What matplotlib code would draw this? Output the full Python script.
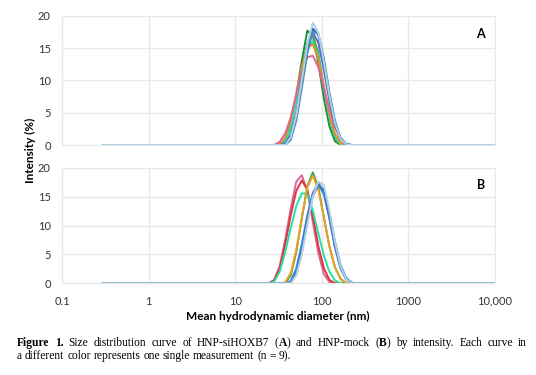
import matplotlib
matplotlib.use('Agg')
import matplotlib.pyplot as plt

# size bins (nm) used by the instrument, only the region around the peaks plus the range ends
sizes = [0.3, 24.36, 28.21, 32.67, 37.84, 43.82, 50.75, 58.77, 68.06, 78.82, 91.28,
         105.7, 122.4, 141.8, 164.2, 190.1, 220.2, 255.0, 295.3, 10000]

# panel A: HNP-siHOXB7, intensity (%) per bin
a_dark_green = [0, 0, 0, 0, 0.6, 3.2, 7.8, 13.0, 17.7, 16.9, 12.6, 7.2, 2.9, 0.6, 0, 0, 0, 0, 0, 0]
a_green      = [0, 0, 0, 0, 0.4, 2.6, 6.9, 12.0, 15.8, 17.0, 14.2, 9.0, 4.2, 1.2, 0, 0, 0, 0, 0, 0]
a_spring     = [0, 0, 0, 0, 0.5, 2.8, 7.0, 11.8, 15.2, 16.0, 13.6, 8.8, 4.3, 1.4, 0.1, 0, 0, 0, 0, 0]
a_orange     = [0, 0, 0, 0.2, 1.2, 3.8, 7.9, 12.0, 15.0, 15.6, 13.2, 9.0, 4.8, 1.8, 0.3, 0, 0, 0, 0, 0]
a_pink       = [0, 0, 0, 0.5, 1.8, 4.3, 7.8, 11.2, 13.6, 13.8, 12.0, 8.8, 5.5, 2.8, 1.0, 0.2, 0, 0, 0, 0]
a_purple     = [0, 0, 0, 0, 0.2, 1.6, 5.0, 10.2, 15.0, 17.4, 15.8, 11.6, 6.8, 3.0, 0.9, 0.1, 0, 0, 0, 0]
a_dark_blue  = [0, 0, 0, 0, 0, 1.0, 4.2, 9.4, 14.6, 18.0, 17.0, 12.8, 7.6, 3.4, 1.0, 0.1, 0, 0, 0, 0]
a_steel      = [0, 0, 0, 0, 0, 0.8, 3.8, 8.8, 14.2, 17.6, 17.2, 13.4, 8.2, 3.8, 1.2, 0.2, 0, 0, 0, 0]
a_light_blue = [0, 0, 0, 0, 0, 1.2, 4.6, 10.0, 15.6, 18.9, 17.4, 12.8, 7.6, 3.4, 1.0, 0.1, 0, 0, 0, 0]

# panel B: HNP-mock
b_pink       = [0, 0, 0.6, 3.0, 7.6, 13.0, 17.6, 18.7, 16.0, 10.6, 5.2, 1.6, 0.2, 0, 0, 0, 0, 0, 0, 0]
b_red        = [0, 0, 0.5, 2.6, 6.8, 11.8, 16.0, 17.8, 16.2, 11.6, 6.4, 2.6, 0.6, 0, 0, 0, 0, 0, 0, 0]
b_spring     = [0, 0, 0.3, 2.0, 5.4, 9.6, 13.4, 15.6, 15.4, 12.6, 8.6, 4.8, 2.0, 0.5, 0, 0, 0, 0, 0, 0]
b_green      = [0, 0, 0, 0, 0, 1.4, 5.4, 11.2, 16.8, 19.2, 16.6, 11.4, 6.4, 2.8, 0.8, 0, 0, 0, 0, 0]
b_orange     = [0, 0, 0, 0, 0.2, 1.8, 5.8, 11.4, 16.6, 18.6, 16.2, 11.4, 6.4, 2.8, 0.8, 0.1, 0, 0, 0, 0]
b_sky        = [0, 0, 0, 0, 0, 0.4, 2.6, 6.8, 11.8, 15.6, 17.0, 15.4, 11.2, 6.2, 2.6, 0.7, 0, 0, 0, 0]
b_purple     = [0, 0, 0, 0, 0, 0.2, 2.0, 6.0, 11.2, 15.6, 17.4, 15.8, 11.4, 6.4, 2.8, 0.8, 0.1, 0, 0, 0]
b_steel      = [0, 0, 0, 0, 0, 0, 1.6, 5.4, 10.6, 15.0, 17.0, 16.2, 12.2, 7.2, 3.2, 1.0, 0.1, 0, 0, 0]
b_light_blue = [0, 0, 0, 0, 0, 0, 1.4, 5.0, 10.2, 15.0, 17.6, 17.0, 12.6, 7.2, 3.0, 0.8, 0, 0, 0, 0]

x_ticks = [0.1, 1, 10, 100, 1000, 10000]
x_tick_labels = ['0.1', '1', '10', '100', '1000', '10,000']
y_ticks = [0, 5, 10, 15, 20]

panel_a = [(a_dark_green, '#1f8a3e'), (a_green, '#3cb44b'), (a_spring, '#22e3a6'),
           (a_orange, '#f28b1e'), (a_pink, '#d9679c'), (a_purple, '#6a5fd8'),
           (a_dark_blue, '#2d5c96'), (a_steel, '#4a8db3'), (a_light_blue, '#a9d5e6')]
panel_b = [(b_pink, '#d9679c'), (b_red, '#e5323f'), (b_spring, '#22e3a6'),
           (b_green, '#35a84a'), (b_orange, '#f0a020'), (b_sky, '#2b9be0'),
           (b_purple, '#6a5fd8'), (b_steel, '#3f7fa6'), (b_light_blue, '#a9d5e6')]

caption_1 = '*Figure 1.* Size distribution curve of HNP-siHOXB7 (*A*) and HNP-mock (*B*) by intensity. Each curve in'
caption_2 = 'a different color represents one single measurement (n = 9).'

plt.rcParams['font.family'] = ['Lato', 'DejaVu Sans']
fig = plt.figure(figsize=(5.36, 3.75), dpi=100)
W, H = 536, 375

def setup(ax, bottom_labels):
    ax.set_xscale('log')
    ax.set_xlim(0.1, 10000)
    ax.set_ylim(0, 20)
    ax.set_xticks(x_ticks)
    ax.minorticks_off()
    ax.set_yticks(y_ticks)
    ax.grid(True, color='#e9e9e9', linewidth=1.0)
    ax.set_axisbelow(True)
    for s in ax.spines.values():
        s.set_color('#e9e9e9')
    ax.tick_params(length=0, labelsize=8, colors='#333333', pad=8)
    if bottom_labels:
        ax.set_xticklabels(x_tick_labels)
        ax.tick_params(axis='x', pad=9)
    else:
        ax.set_xticklabels([])

ax_a = fig.add_axes([62 / W, 1 - 145 / H, 433 / W, 129.3 / H])
ax_b = fig.add_axes([62 / W, 1 - 283.3 / H, 433 / W, 115.6 / H])
setup(ax_a, False)
setup(ax_b, True)
for vals, c in panel_a:
    ax_a.plot(sizes, vals, color=c, linewidth=1.4)
for vals, c in panel_b:
    ax_b.plot(sizes, vals, color=c, linewidth=1.4)

ax_a.text(0.967, 0.86, 'A', transform=ax_a.transAxes, fontsize=9, fontweight='bold', ha='center', va='center')
ax_b.text(0.967, 0.85, 'B', transform=ax_b.transAxes, fontsize=9, fontweight='bold', ha='center', va='center')

fig.text(30 / W, 1 - 150 / H, 'Intensity (%)', rotation=90, fontsize=8.5, fontweight='bold',
         ha='center', va='center')
fig.text(278 / W, 1 - 316 / H, 'Mean hydrodynamic diameter (nm)', fontsize=8.5, fontweight='bold',
         ha='center', va='center')

# caption: '*' toggles bold; first line is justified like in the paper
serif = 'Liberation Serif'
cap_size = 8.3
fig.canvas.draw()
r = fig.canvas.get_renderer()

def words_of(line):
    bold = False
    out = []
    for w in line.split(' '):
        parts = []
        for i, seg in enumerate(w.split('*')):
            if i > 0:
                bold = not bold
            if seg:
                parts.append((seg, 'bold' if bold else 'normal'))
        out.append(parts)
    return out

def put_line(line, x0, ybase, x1=None):
    words = words_of(line)
    arts = []
    for parts in words:
        wa = []
        for seg, wt in parts:
            t = fig.text(0, ybase / H, seg, fontsize=cap_size, fontweight=wt, family=serif,
                         va='baseline')
            wa.append((t, t.get_window_extent(r).width))
        arts.append(wa)
    widths = [sum(w for _, w in wa) for wa in arts]
    space = fig.text(0, 0, 'a a', fontsize=cap_size, family=serif).get_window_extent(r).width - \
        fig.text(0, 0, 'aa', fontsize=cap_size, family=serif).get_window_extent(r).width
    fig.texts[-2:] = []
    gap = space if x1 is None else (x1 - x0 - sum(widths)) / (len(arts) - 1)
    x = x0
    for wa, wd in zip(arts, widths):
        xx = x
        for t, w in wa:
            t.set_x(xx / W)
            xx += w
        x += wd + gap

put_line(caption_1, 17, H - 346, 527)
put_line(caption_2, 17, H - 359)

fig.savefig('out.png', dpi=100)
